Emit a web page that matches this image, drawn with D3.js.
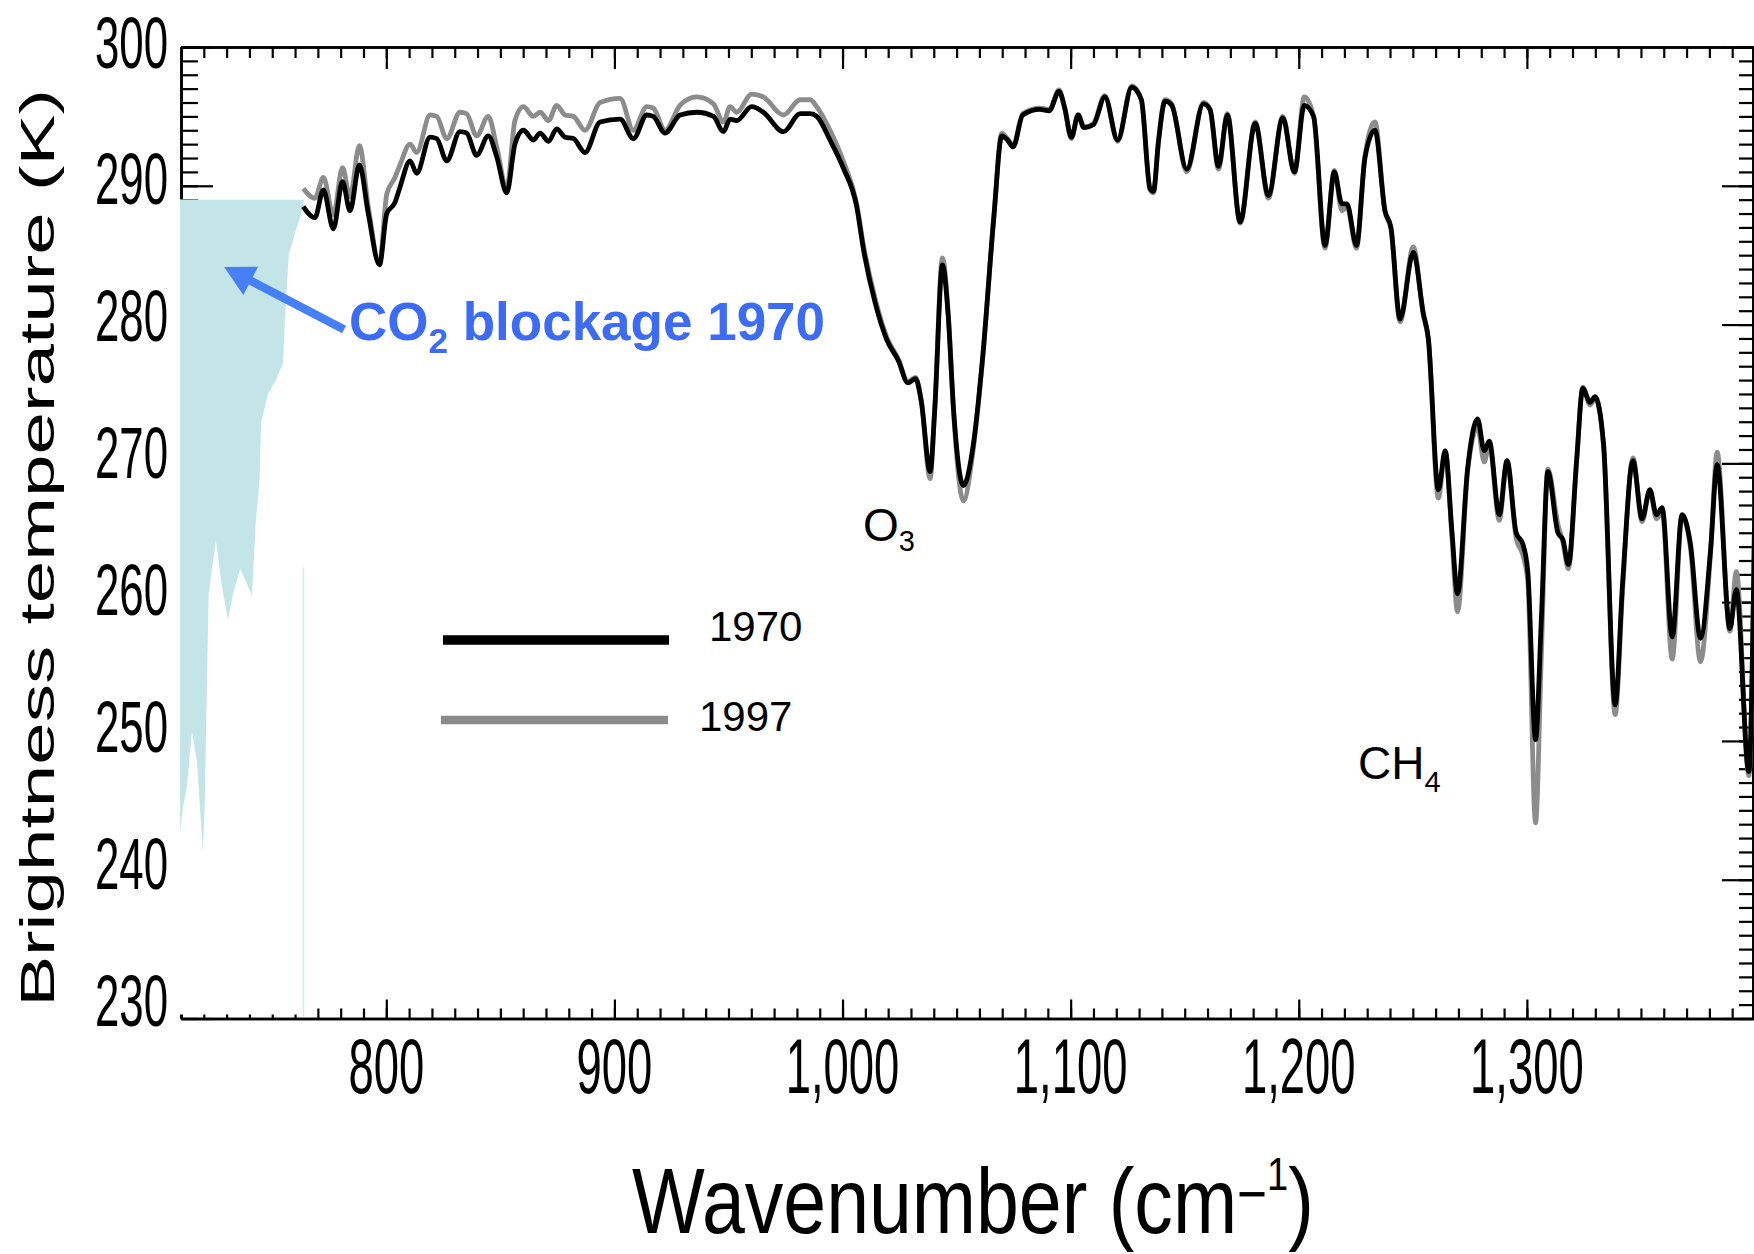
<!DOCTYPE html>
<html lang="en">
<head>
  <meta charset="UTF-8">
  <title>Brightness temperature 1970 / 1997</title>
  <script src="https://cdn.jsdelivr.net/npm/d3@7"></script>
  <style>
    html, body { margin: 0; padding: 0; background: #fff; }
    svg { display: block; }
    text { font-family: "Liberation Sans", Arial, Helvetica, sans-serif; }
  </style>
</head>
<body>
<script>
  // tick labels
  const xTickValues = [800, 900, 1000, 1100, 1200, 1300]
  const yTickValues = [230, 240, 250, 260, 270, 280, 290, 300]

  // spectrum (cm-1, K)
  const wavenumber = [
    763.6, 768.7, 772.4, 776.8, 780.8, 784.1, 788.2, 792.1, 797.0, 800.2,
    803.8, 806.0, 810.4, 813.3, 819.2, 822.1, 826.5, 832.3, 835.2, 839.6,
    844.7, 848.4, 852.8, 856.4, 860.1, 864.5, 867.4, 871.1, 874.7, 878.4,
    882.0, 887.1, 893.7, 902.5, 908.3, 914.2, 917.0, 922.2, 928.8, 936.1,
    943.4, 947.8, 950.7, 953.6, 960.2, 965.3, 974.1, 981.4, 985.8, 988.7,
    994.5, 1000.3, 1006.2, 1009.3, 1014.4, 1019.4, 1024.5, 1028.6, 1032.0, 1034.5,
    1038.4, 1040.4, 1043.8, 1046.3, 1048.7, 1053.0, 1057.2, 1061.4, 1066.4, 1069.8,
    1072.3, 1074.8, 1079.0, 1086.5, 1090.6, 1094.9, 1097.4, 1100.3, 1103.3, 1105.8,
    1110.0, 1115.0, 1120.6, 1126.8, 1131.0, 1134.8, 1136.3, 1138.5, 1141.4, 1144.3,
    1150.9, 1158.2, 1161.1, 1164.8, 1168.7, 1174.3, 1180.9, 1186.7, 1193.0, 1198.1,
    1202.4, 1206.5, 1211.5, 1215.6, 1218.9, 1221.1, 1225.3, 1229.0, 1233.4, 1237.8,
    1240.4, 1244.4, 1250.2, 1254.6, 1256.8, 1261.2, 1264.2, 1267.1, 1269.6, 1274.0,
    1278.4, 1281.3, 1283.5, 1287.9, 1291.3, 1295.3, 1298.2, 1300.4, 1303.8, 1306.3,
    1309.2, 1313.6, 1315.8, 1318.2, 1321.8, 1324.5, 1327.7, 1329.9, 1333.6, 1338.7,
    1342.0, 1346.5, 1350.5, 1353.9, 1356.8, 1359.3, 1363.7, 1368.0, 1371.7, 1376.1,
    1380.5, 1383.4, 1389.0, 1391.8, 1397.3, 1400.0
  ]
  const temp1970 = [
    288.5, 287.7, 289.7, 286.9, 290.3, 288.2, 291.5, 288.0, 284.3, 288.0,
    288.8, 289.9, 291.8, 290.9, 293.5, 293.4, 291.8, 293.9, 293.8, 292.2,
    293.6, 292.1, 289.5, 293.0, 294.0, 293.3, 293.8, 293.2, 294.1, 293.5,
    293.4, 292.4, 294.6, 294.8, 293.4, 295.1, 295.0, 293.8, 295.1, 295.3,
    295.0, 293.9, 294.8, 294.7, 295.7, 295.3, 293.9, 295.2, 295.2, 295.0,
    293.3, 291.3, 288.5, 285.3, 281.5, 278.9, 277.4, 275.8, 276.1, 274.5,
    269.4, 273.8, 284.3, 280.7, 273.8, 268.4, 271.2, 277.6, 287.9, 293.6,
    293.3, 292.8, 295.1, 295.5, 295.4, 296.8, 295.6, 293.5, 295.1, 294.2,
    294.4, 296.4, 293.3, 297.1, 296.2, 289.8, 289.6, 293.2, 296.1, 295.8,
    291.2, 295.9, 295.5, 291.4, 295.1, 287.4, 294.5, 289.3, 294.9, 291.0,
    295.8, 295.0, 285.7, 291.0, 288.7, 288.7, 285.7, 292.0, 294.0, 288.2,
    287.0, 280.4, 285.2, 280.8, 279.0, 268.1, 270.9, 265.2, 260.6, 269.6,
    273.2, 270.9, 271.6, 266.3, 270.2, 265.0, 264.2, 262.2, 250.1, 258.6,
    269.4, 265.0, 264.5, 262.7, 270.2, 275.4, 274.4, 274.8, 271.4, 252.6,
    261.5, 270.2, 266.0, 268.1, 266.3, 266.8, 257.5, 266.3, 264.2, 257.4,
    263.7, 269.9, 258.1, 260.9, 247.8, 268.0
  ]
  const temp1997 = [
    289.8, 289.1, 290.6, 287.9, 291.3, 289.2, 292.9, 288.5, 284.4, 289.4,
    290.6, 291.5, 293.0, 292.4, 295.1, 295.0, 293.4, 295.3, 295.2, 293.6,
    295.0, 292.8, 289.8, 294.7, 295.7, 295.0, 295.3, 294.7, 295.8, 295.1,
    295.0, 294.0, 296.0, 296.3, 294.0, 295.7, 295.6, 294.0, 295.8, 296.4,
    295.9, 294.6, 295.7, 295.3, 296.6, 296.4, 295.1, 296.2, 296.2, 295.7,
    294.0, 291.8, 288.7, 285.6, 281.8, 279.1, 277.5, 275.9, 276.2, 274.5,
    268.9, 273.9, 284.8, 280.9, 273.6, 267.3, 270.9, 277.5, 287.9, 293.8,
    293.4, 292.9, 295.2, 295.6, 295.5, 296.9, 295.6, 293.4, 295.1, 294.2,
    294.5, 296.5, 293.2, 297.2, 296.2, 289.7, 289.5, 293.2, 296.2, 295.9,
    291.0, 296.0, 295.5, 291.2, 295.2, 287.3, 294.6, 289.1, 295.0, 290.9,
    296.4, 295.0, 285.5, 291.1, 288.2, 288.5, 285.5, 292.1, 294.6, 288.1,
    286.9, 280.2, 285.6, 280.7, 278.9, 267.5, 270.9, 264.8, 259.3, 269.4,
    272.6, 270.1, 271.4, 265.9, 270.1, 264.6, 263.4, 261.5, 244.1, 256.0,
    269.6, 265.6, 264.3, 262.4, 270.1, 275.5, 274.2, 274.7, 271.3, 251.9,
    261.0, 270.4, 265.8, 268.0, 266.0, 266.5, 255.9, 266.2, 263.9, 255.7,
    263.5, 270.8, 257.9, 262.2, 247.5, 268.0
  ]

  // CO2 band edge (shaded region up to 289 K)
  const co2Top = 289
  const co2Wn = [709.6, 710.9, 712.6, 714.8, 717.0, 719.6, 720.4, 721.3, 722.1, 722.7,
    725.3, 728.0, 730.6, 732.8, 735.9, 741.1, 742.7, 744.4, 745.1, 746.4,
    748.1, 751.6, 754.7, 755.6, 756.5, 757.3, 760.0, 762.2, 763.9]
  const co2T = [243.5, 245.3, 246.7, 250.7, 248.5, 242.0, 245.4, 253.6, 260.5, 261.4,
    264.4, 261.1, 258.7, 260.6, 262.4, 260.5, 265.6, 268.8, 272.9, 273.8,
    275.0, 276.0, 277.2, 280.5, 283.0, 285.1, 286.6, 287.7, 288.95]

  // arrow of the CO2 note, in data units [wavenumber, K]
  const arrowTail = [781.5, 279.65]
  const arrowTip = [728.9, 284.15]

  const width = 1754
  const height = 1254
  const x = d3.scaleLinear().domain([710, 1400]).range([181, 1755])
  const y = d3.scaleLinear().domain([230, 300]).range([1018.5, 47])
  // the tick numbers sit a little off the ticks in the original
  const yLabel = d3.scaleLinear().domain([230, 300]).range([1000, 41.5])

  const svg = d3.select("body").append("svg")
    .attr("width", width)
    .attr("height", height)

  function addAxis(axis, transform, values, size) {
    svg.append("g")
      .attr("transform", transform)
      .call(axis.tickValues(values).tickSize(size).tickSizeOuter(0).tickFormat(() => ""))
      .call(g => g.selectAll(".tick line").attr("stroke-width", 2.2))
      .call(g => g.select(".domain").attr("stroke-width", 2.6))
  }
  const xMinor = d3.range(710, 1401, 10)
  const yMinor = d3.range(230, 301, 1)
  addAxis(d3.axisTop(x), `translate(0,${y(230)})`, xMinor, 10)
  addAxis(d3.axisTop(x), `translate(0,${y(230)})`, xTickValues, 19)
  addAxis(d3.axisBottom(x), `translate(0,${y(300)})`, xMinor, 11)
  addAxis(d3.axisBottom(x), `translate(0,${y(300)})`, xTickValues, 22)
  addAxis(d3.axisRight(y), `translate(${x(710)},0)`, yMinor, 17)
  addAxis(d3.axisRight(y), `translate(${x(710)},0)`, yTickValues, 32)
  addAxis(d3.axisLeft(y), `translate(1753,0)`, yMinor, 14)
  addAxis(d3.axisLeft(y), `translate(1753,0)`, yTickValues, 31)

  // the pasted CO2 panel hides the left frame below 289 K
  svg.append("rect")
    .attr("x", x(710) - 4)
    .attr("y", y(co2Top))
    .attr("width", x(wavenumber[0]) - x(710) + 4)
    .attr("height", y(230) - y(co2Top) - 4)
    .attr("fill", "#fff")
  svg.append("line")
    .attr("x1", x(763.7)).attr("x2", x(763.7))
    .attr("y1", y(262.5)).attr("y2", y(230) - 2)
    .attr("stroke", "#d3e9ec")
    .attr("stroke-width", 1.5)

  const co2 = co2Wn.map((w, i) => ({w, t: co2T[i]}))
  svg.append("path")
    .datum(co2)
    .attr("fill", "#c4e5e8")
    .attr("d", d3.area().x(d => x(d.w)).y0(y(co2Top)).y1(d => y(d.t)))

  // spectra
  const series = [
    {name: "1997", values: temp1997, color: "#8c8c8c"},
    {name: "1970", values: temp1970, color: "#000"}
  ]
  const line = d3.line()
    .x((d, i) => x(wavenumber[i]))
    .y(d => y(d))
    .curve(d3.curveMonotoneX)
  svg.append("g")
    .selectAll("path")
    .data(series)
    .join("path")
    .attr("fill", "none")
    .attr("stroke", d => d.color)
    .attr("stroke-width", 4.8)
    .attr("stroke-linejoin", "round")
    .attr("d", d => line(d.values))

  // tick labels, narrow like the original
  svg.append("g")
    .selectAll("text")
    .data(xTickValues)
    .join("text")
    .attr("transform", d => `translate(${x(d)},1093) scale(0.59,1)`)
    .attr("text-anchor", "middle")
    .attr("font-size", 77)
    .text(d3.format(","))
  svg.append("g")
    .selectAll("text")
    .data(yTickValues)
    .join("text")
    .attr("transform", d => `translate(168,${yLabel(d) + 26}) scale(0.6,1)`)
    .attr("text-anchor", "end")
    .attr("font-size", 73)
    .text(d => d)

  function fitWidth(text, base, target) {
    const w = text.node().getComputedTextLength()
    text.attr("transform", `${base} scale(${target / w},1)`)
  }

  const xTitle = svg.append("text")
    .attr("text-anchor", "middle")
    .attr("font-size", 93)
    .attr("y", 1233)
  xTitle.append("tspan").text("Wavenumber (cm")
  xTitle.append("tspan").attr("font-size", 62).attr("dy", -18).text("\u2212")
  xTitle.append("tspan").attr("font-size", 46).attr("dy", -25).text("1")
  xTitle.append("tspan").attr("dy", 43).text(")")
  fitWidth(xTitle, "translate(973,0)", 682)

  const yTitle = svg.append("text")
    .attr("text-anchor", "middle")
    .attr("font-size", 49)
    .text("Brightness temperature (K)")
  fitWidth(yTitle, "translate(54,548) rotate(-90)", 918)

  // CO2 note and arrow
  const blue = "#3c6bf6"
  const note = svg.append("text")
    .attr("x", 349).attr("y", 340)
    .attr("font-size", 53)
    .attr("font-weight", "bold")
    .attr("fill", blue)
  note.append("tspan").text("CO")
  note.append("tspan").attr("font-size", 35).attr("dy", 13).text("2")
  note.append("tspan").attr("dy", -13).text(" blockage 1970")

  const [tx, ty] = [x(arrowTail[0]), y(arrowTail[1])]
  const [hx, hy] = [x(arrowTip[0]), y(arrowTip[1])]
  const len = Math.hypot(hx - tx, hy - ty)
  const ux = (hx - tx) / len
  const uy = (hy - ty) / len
  const headLen = 30
  const headHalf = 16
  const bx = hx - ux * headLen
  const by = hy - uy * headLen
  svg.append("line")
    .attr("x1", tx).attr("y1", ty)
    .attr("x2", bx + ux * 4).attr("y2", by + uy * 4)
    .attr("stroke", "#4680f4")
    .attr("stroke-width", 8.5)
  svg.append("path")
    .attr("fill", "#4680f4")
    .attr("d", `M${hx},${hy}L${bx - uy * headHalf},${by + ux * headHalf}L${bx + uy * headHalf},${by - ux * headHalf}Z`)

  // gas labels
  const o3 = svg.append("text").attr("x", 863).attr("y", 541).attr("font-size", 46)
  o3.append("tspan").text("O")
  o3.append("tspan").attr("font-size", 29).attr("dy", 10).text("3")
  const ch4 = svg.append("text").attr("x", 1358).attr("y", 779).attr("font-size", 46)
  ch4.append("tspan").text("CH")
  ch4.append("tspan").attr("font-size", 29).attr("dy", 13).text("4")

  // legend
  const legend = [
    {name: "1970", color: "#000", x1: 443, x2: 669, ly: 640, w: 9.5, tx: 709, ty: 641},
    {name: "1997", color: "#8a8a8a", x1: 441, x2: 668, ly: 720, w: 8.5, tx: 699, ty: 731}
  ]
  const lg = svg.append("g")
  lg.selectAll("line")
    .data(legend)
    .join("line")
    .attr("x1", d => d.x1).attr("x2", d => d.x2)
    .attr("y1", d => d.ly).attr("y2", d => d.ly)
    .attr("stroke", d => d.color)
    .attr("stroke-width", d => d.w)
  lg.selectAll("text")
    .data(legend)
    .join("text")
    .attr("x", d => d.tx).attr("y", d => d.ty)
    .attr("font-size", 42)
    .text(d => d.name)
</script>
</body>
</html>
